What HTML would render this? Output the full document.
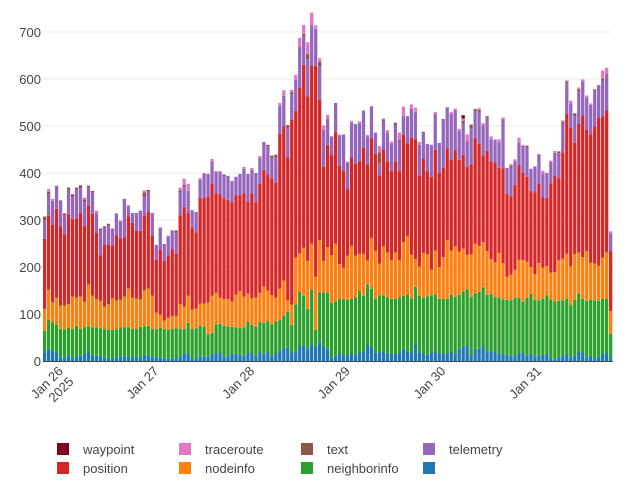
<!DOCTYPE html>
<html><head><meta charset="utf-8">
<style>
html,body{margin:0;padding:0;background:#fff;}
svg{display:block;font-family:"Liberation Sans","DejaVu Sans",sans-serif;}
</style></head>
<body>
<svg id="chart" width="626" height="486" viewBox="0 0 626 486" xmlns="http://www.w3.org/2000/svg">
<g id="grid"></g>
<g id="bars"></g>
<g id="axes"></g>
<g id="legend"></g>
</svg>
<script>
const blueV=[18,26,22,18,8,8,12,6,10,12,15,22,11,11,11,8,6,6,8,10,10,10,8,10,8,12,12,10,8,8,6,5,6,6,10,16,15,6,6,11,9,9,15,16,18,10,10,15,15,13,11,17,17,11,19,15,18,11,17,21,28,28,17,19,33,32,26,36,30,42,30,26,7,11,17,13,12,17,13,19,19,33,30,17,19,21,15,15,15,17,26,20,18,36,18,16,13,18,22,16,16,16,21,15,26,30,33,12,26,26,33,19,21,21,15,15,13,11,12,17,17,11,15,10,11,13,15,6,4,8,11,15,8,11,21,17,8,11,6,9,15,18,6];
const neighborV=[46,62,60,60,60,59,59,62,65,56,57,52,61,61,59,60,60,60,59,62,62,62,60,58,65,62,63,58,60,63,62,61,62,64,58,52,66,62,64,64,64,48,45,62,61,65,63,58,56,57,61,66,60,62,64,66,67,67,67,66,69,77,60,101,114,107,85,116,36,104,116,120,117,116,115,119,118,115,122,130,120,130,124,115,121,119,120,117,117,118,113,122,114,122,121,118,125,122,120,116,116,116,120,121,115,118,120,124,118,121,124,122,122,115,120,116,117,118,122,117,109,123,128,120,118,119,125,125,123,120,118,117,111,119,123,115,120,119,123,119,117,114,52];
const nodeinfoV=[47,64,43,57,50,51,50,69,60,69,54,89,67,60,58,48,55,68,62,58,65,82,67,65,58,77,79,71,35,28,18,26,28,26,53,48,58,41,41,47,49,67,79,67,56,57,59,53,70,79,65,60,57,62,62,77,65,62,51,67,74,24,43,100,82,102,102,98,113,111,67,96,101,123,74,67,94,113,89,79,89,51,108,103,67,104,96,83,99,80,114,124,94,59,62,96,89,54,93,68,89,125,94,108,92,91,73,91,106,98,96,93,74,74,95,77,49,55,60,81,89,77,57,55,79,67,62,57,62,87,89,96,83,98,87,89,106,79,78,75,88,100,48];
const positionV=[149,157,165,189,169,151,191,165,169,178,161,168,174,141,97,131,127,112,138,131,126,154,159,144,146,159,163,127,112,138,127,133,142,133,189,212,176,174,163,225,225,225,238,212,220,214,211,212,212,204,220,196,223,203,232,249,247,249,244,329,328,304,393,312,352,389,350,379,449,299,200,218,213,237,209,206,141,188,196,197,226,203,212,206,188,206,194,189,194,189,228,197,250,255,193,201,177,198,214,200,190,196,193,204,195,200,187,191,225,217,185,213,208,213,181,202,177,166,181,202,185,181,162,174,170,149,145,190,206,174,226,298,294,236,274,302,259,273,292,314,301,301,128];
const telemetryV=[40,46,51,49,55,40,53,47,62,53,51,38,45,41,53,40,40,36,47,36,82,23,21,38,43,40,43,49,32,47,36,40,40,43,49,43,47,38,43,38,52,49,47,45,47,47,51,45,39,45,52,59,50,62,55,59,59,43,55,60,65,63,55,66,84,62,79,83,78,71,79,55,40,62,65,77,58,74,84,81,79,61,68,45,26,60,60,59,77,62,40,58,61,58,66,57,58,68,77,64,104,87,98,85,62,66,55,77,57,68,64,74,47,48,55,104,55,61,50,47,59,62,47,55,62,51,53,47,48,53,61,66,52,57,69,72,68,63,76,70,75,74,38];
const textV=[7,5,0,0,0,5,4,6,3,6,6,4,4,0,4,0,4,0,0,0,0,0,0,0,0,9,4,0,0,0,0,0,0,6,4,4,0,0,0,0,0,0,0,0,0,4,0,0,0,0,0,0,0,0,0,0,4,5,5,0,0,6,4,0,2,4,11,2,1,9,0,0,0,0,0,0,0,0,0,0,0,0,0,0,23,4,0,0,5,4,0,0,0,0,0,0,0,0,0,0,0,0,0,0,0,6,0,8,4,4,0,0,0,0,0,0,0,4,0,0,0,4,0,0,0,0,0,0,0,4,4,3,0,6,4,0,0,0,3,0,4,3,0];
const tracerouteV=[1,6,4,0,0,0,0,0,0,0,4,0,0,6,0,0,0,0,0,2,0,0,0,0,0,4,0,0,0,0,0,2,0,0,6,13,15,0,0,4,1,0,6,2,2,0,0,0,0,0,4,0,4,0,4,0,0,0,0,6,12,0,5,11,21,19,25,27,7,8,9,9,0,0,2,0,1,4,0,4,0,3,0,0,13,2,6,4,0,16,20,0,9,9,6,0,0,0,4,0,0,0,4,4,4,5,14,0,0,4,4,0,6,0,6,4,0,4,4,11,0,0,0,0,0,6,0,1,4,0,3,2,6,0,4,4,4,3,0,0,18,14,4];
const waypointV=[0,0,0,0,0,0,0,0,0,0,0,0,0,0,0,0,0,0,0,0,0,0,0,0,0,0,0,0,0,0,0,0,0,0,0,0,0,0,0,0,0,0,0,0,0,0,0,0,0,0,0,0,0,0,0,0,0,0,0,0,0,0,0,0,0,0,0,0,0,0,0,0,0,0,0,0,0,0,0,0,0,0,0,0,0,0,0,0,0,0,0,0,0,0,0,0,0,0,0,0,0,0,0,0,0,7,0,0,0,0,0,0,0,0,0,0,0,0,0,0,0,0,0,0,0,0,0,0,0,0,0,0,0,0,0,0,0,0,0,0,0,0,0];
const yTicks=[0,100,200,300,400,500,600,700];
const dayLabels=["Jan 26","Jan 27","Jan 28","Jan 29","Jan 30","Jan 31"];
const dayBarIndex=[4,28,52,76,100,124];

const NS="http://www.w3.org/2000/svg";
const X0=43,X1=613,Y0=361,YPER=329/700;
const n=blueV.length;
const pitch=(X1-X0)/n;
function xPos(i){return X0+i*pitch;}
function yPos(v){return Y0-v*YPER;}
function mk(tag,attrs,parent){const e=document.createElementNS(NS,tag);for(const k in attrs)e.setAttribute(k,attrs[k]);parent.appendChild(e);return e;}

const grid=document.getElementById('grid');
const axes=document.getElementById('axes');
yTicks.forEach(t=>{
  if(t>0){
    const l=mk('line',{x1:X0,x2:X1,y1:yPos(t),y2:yPos(t),stroke:'#ebebeb','stroke-width':1},grid);
    
    
  }
  const tx=mk('text',{x:41,y:yPos(t)+5,'text-anchor':'end','font-size':13,fill:'#444'},axes);
  tx.textContent=t;
  
  
});
const base=mk('line',{x1:X0,x2:X1,y1:Y0+0.5,y2:Y0+0.5,stroke:'#444','stroke-width':1},axes);



dayLabels.forEach((d,k)=>{
  const cx=xPos(dayBarIndex[k])+pitch/2;
  const g=mk('g',{transform:`translate(${cx},${Y0+8}) rotate(-45)`},axes);
  
  
  const t=mk('text',{x:0,y:4,'text-anchor':'end','font-size':13,fill:'#444'},g);
  t.textContent=d;
  if(k===0){
    const t2=mk('text',{x:0,y:19,'text-anchor':'end','font-size':13,fill:'#444'},g);
    t2.textContent='2025';
  }
});

const series=[
 {name:'telemetry-blue',vals:blueV,color:'#1f77b4'},
 {name:'neighborinfo',vals:neighborV,color:'#2ca02c'},
 {name:'nodeinfo',vals:nodeinfoV,color:'#ff7f0e'},
 {name:'position',vals:positionV,color:'#d62728'},
 {name:'telemetry',vals:telemetryV,color:'#9467bd'},
 {name:'text',vals:textV,color:'#8c564b'},
 {name:'traceroute',vals:tracerouteV,color:'#e377c2'},
 {name:'waypoint',vals:waypointV,color:'#800020'}
];
const bars=document.getElementById('bars');
for(let i=0;i<n;i++){
  let cum=0;
  series.forEach(s=>{
    const v=s.vals[i]||0;
    if(v>0){
      const r=mk('rect',{x:xPos(i),y:yPos(cum+v),width:pitch-0.7,height:v*YPER,fill:s.color},bars);
      
      
    }
    cum+=v;
  });
}

const legend=document.getElementById('legend');
const legItems=[
 ['waypoint','#800020',57,443],['traceroute','#e377c2',179,443],['text','#8c564b',301,443],['telemetry','#9467bd',423,443],
 ['position','#d62728',57,462],['nodeinfo','#ff7f0e',179,462],['neighborinfo','#2ca02c',301,462],['','#1f77b4',423,462]
];
legItems.forEach(it=>{
  const g=mk('g',{},legend);
  
  
  mk('rect',{x:it[2],y:it[3],width:12,height:12,fill:it[1]},g);
  const t=mk('text',{x:it[2]+26,y:it[3]+11,'font-size':13,fill:'#444'},g);
  t.textContent=it[0];
});
</script>
</body></html>
